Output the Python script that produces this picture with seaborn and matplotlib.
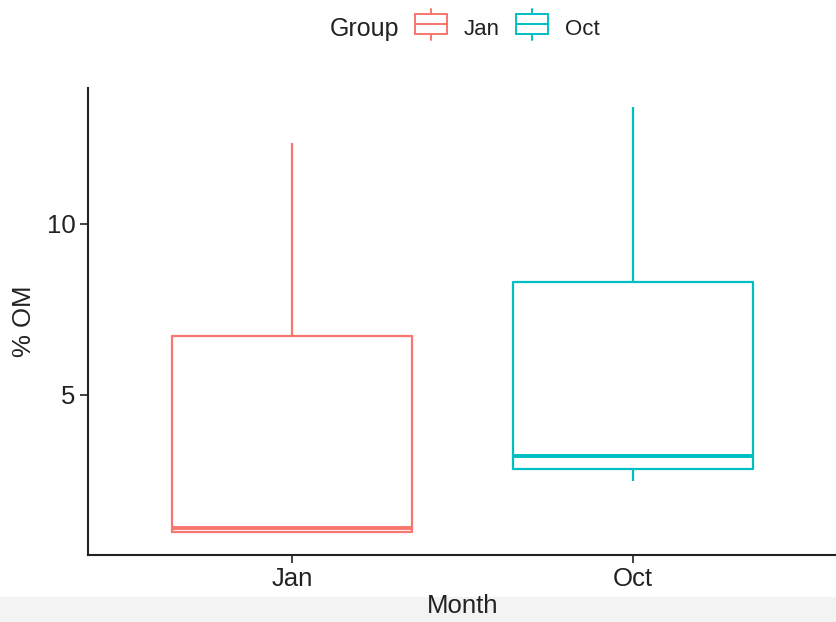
import matplotlib
matplotlib.use("Agg")
import matplotlib.pyplot as plt
from matplotlib.legend_handler import HandlerBase
from matplotlib.lines import Line2D
from matplotlib.patches import Rectangle
import seaborn as sns
import pandas as pd

# ─── Data (five-number summaries) ────────────────────────────────────────────
months   = ["Jan", "Oct"]
jan_om   = [1.0, 1.0, 1.1, 6.72, 12.37]
oct_om   = [2.49, 2.84, 3.22, 8.3, 13.42]
yticks   = [5, 10]
palette  = {"Jan": "#F8766D", "Oct": "#00BFC4"}

df = pd.DataFrame({
    "Month": ["Jan"] * len(jan_om) + ["Oct"] * len(oct_om),
    "OM": jan_om + oct_om,
})

sns.set_style("white")
plt.rcParams["font.family"] = ["Liberation Sans", "DejaVu Sans"]
TXT = "#222222"


# ─── Legend glyph: small box with median and whiskers ────────────────────────

class BoxGlyph(HandlerBase):
    def create_artists(self, legend, orig_handle, xd, yd, w, h, fontsize, trans):
        c = orig_handle.get_color()
        bh = 14.4
        x0 = xd
        y0 = yd + (h - bh) / 2
        xm = xd + w / 2
        return [
            Rectangle((x0, y0), w, bh, fill=False, edgecolor=c, lw=1.4, transform=trans),
            Line2D([x0, x0 + w], [y0 + bh / 2] * 2, color=c, lw=1.4, transform=trans),
            Line2D([xm, xm], [y0 + bh, y0 + bh + 4], color=c, lw=1.4, transform=trans),
            Line2D([xm, xm], [y0, y0 - 4], color=c, lw=1.4, transform=trans),
        ]


fig = plt.figure(figsize=(8.37, 6.22), dpi=100)
ax = fig.add_axes([0.105, 0.108, 0.895, 0.751])

# faint grey band at the bottom, as in the screenshot
fig.patches.append(Rectangle((0, 0), 1, 0.04, transform=fig.transFigure,
                             color="#f3f3f3", zorder=-1))

sns.boxplot(
    data=df, x="Month", y="OM", hue="Month", order=months, hue_order=months,
    palette=palette, fill=False, width=0.705, linewidth=1.6,
    whis=(0, 100), showcaps=False, legend=False, ax=ax,
    medianprops={"linewidth": 2.8},
)

ax.set_xlim(-0.6, 1.6)
ax.set_ylim(0.32, 13.98)
ax.set_yticks(yticks)
ax.set_xlabel("Month", fontsize=18.5, color=TXT, labelpad=2)
ax.set_ylabel("% OM", fontsize=18.5, color=TXT, labelpad=8)
ax.tick_params(axis="both", labelsize=18.5, length=6, width=1.2, color=TXT,
               labelcolor=TXT, direction="out", bottom=True, left=True, pad=3)
sns.despine(ax=ax)
for s in ["left", "bottom"]:
    ax.spines[s].set_linewidth(1.5)
    ax.spines[s].set_color(TXT)

handles = [Line2D([], [], color=palette[m]) for m in months]
fig.text(0.394, 0.953, "Group", fontsize=18, color=TXT, va="center")
fig.legend(handles, months, handler_map={Line2D: BoxGlyph()},
           loc="center", bbox_to_anchor=(0.606, 0.953), ncol=2, frameon=False,
           fontsize=16, handlelength=1.44, handleheight=0.9, columnspacing=0.72,
           handletextpad=0.75, labelcolor=TXT, borderaxespad=0, borderpad=0)

plt.savefig("out.png", dpi=100)
plt.close()
